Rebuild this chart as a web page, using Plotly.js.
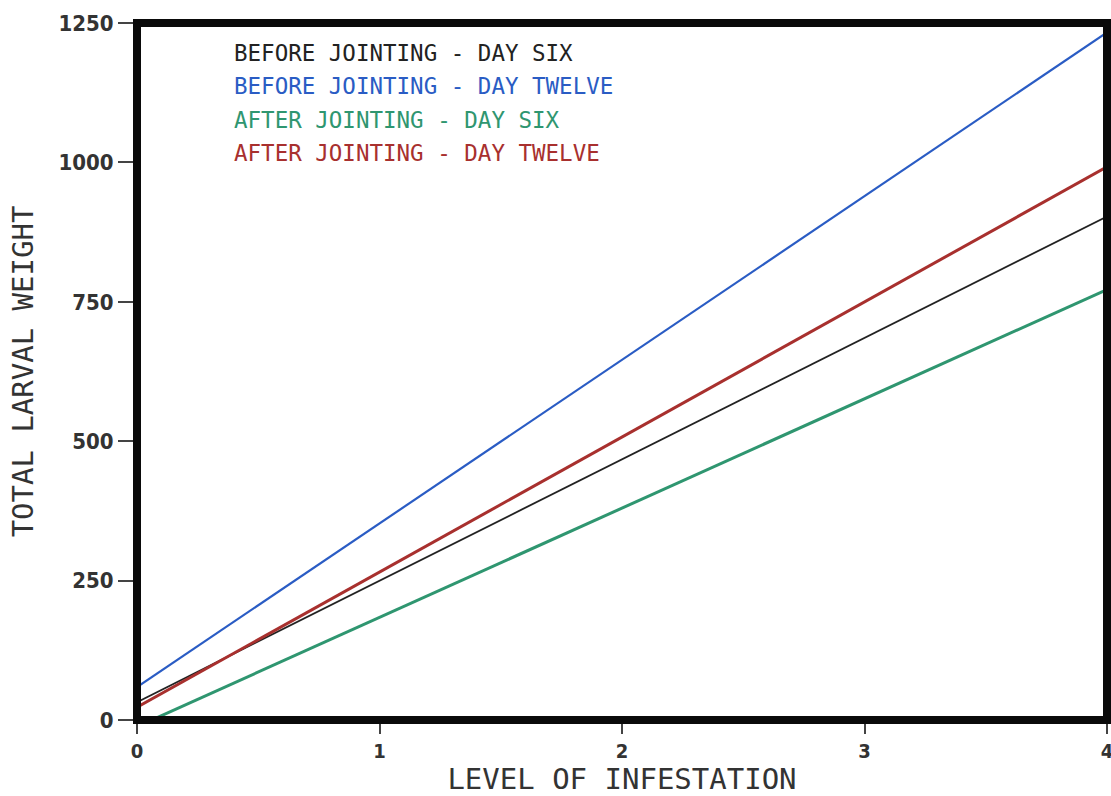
<!DOCTYPE html>
<html>
<head>
<meta charset="utf-8">
<script src="https://cdn.plot.ly/plotly-3.0.1.min.js"></script>
<style>
  html, body { margin: 0; padding: 0; background: #ffffff; }
  #chart { width: 1111px; height: 796px; }
</style>
</head>
<body>
<div id="chart"></div>
<script>
// Data (regression lines, endpoints at level 0 and 4)
const seriesNames = [
  "BEFORE JOINTING - DAY SIX",
  "BEFORE JOINTING - DAY TWELVE",
  "AFTER JOINTING - DAY SIX",
  "AFTER JOINTING - DAY TWELVE"
];
const levels = [0, 4];
const beforeDaySix = [32, 903];
const beforeDayTwelve = [59, 1233];
const afterDaySix = [-12, 772];
const afterDayTwelve = [23, 992];
const xTickVals = [0, 1, 2, 3, 4];
const yTickVals = [0, 250, 500, 750, 1000, 1250];

const colors = ["#222222", "#2a5cc4", "#2f9670", "#a8302e"];
const widths = [1.8, 2.2, 3, 3];
const seriesValues = [beforeDaySix, beforeDayTwelve, afterDaySix, afterDayTwelve];

// draw order: green, black, red, blue
const order = [2, 0, 3, 1];
const traces = order.map(i => ({
  x: levels,
  y: seriesValues[i],
  name: seriesNames[i],
  type: "scatter",
  mode: "lines",
  line: { color: colors[i], width: widths[i] },
  hoverinfo: "x+y+name"
}));

const legendY = [0.957, 0.9095, 0.861, 0.8135];
const annotations = seriesNames.map((t, i) => ({
  text: t,
  xref: "paper", yref: "paper",
  x: 0.098, y: legendY[i],
  xanchor: "left", yanchor: "middle",
  showarrow: false,
  font: { family: "DejaVu Sans Mono, monospace", size: 22.5, color: colors[i] }
}));

const tickFont = { family: "DejaVu Sans Condensed, DejaVu Sans, sans-serif", size: 22, color: "#333333", weight: "bold" };
const xTickFont = { family: "DejaVu Sans Condensed, DejaVu Sans, sans-serif", size: 20, color: "#333333", weight: "bold" };
const titleFont = { family: "DejaVu Sans Mono, monospace", size: 29, color: "#333333" };

const layout = {
  width: 1111,
  height: 796,
  margin: { l: 137, r: 4, t: 23, b: 76 },
  paper_bgcolor: "#ffffff",
  plot_bgcolor: "#ffffff",
  showlegend: false,
  xaxis: {
    range: [0, 4],
    tickvals: xTickVals,
    ticktext: xTickVals.map(String),
    ticks: "outside",
    ticklen: 13,
    tickwidth: 2,
    tickcolor: "#444444",
    showgrid: false,
    zeroline: false,
    showline: false,
    ticklabeloverflow: "allow",
    tickfont: xTickFont,
    title: { text: "LEVEL OF INFESTATION", font: titleFont, standoff: 16 }
  },
  yaxis: {
    range: [0, 1250],
    tickvals: yTickVals,
    ticktext: yTickVals.map(String),
    ticks: "outside",
    ticklen: 18,
    tickwidth: 2,
    tickcolor: "#444444",
    showgrid: false,
    zeroline: false,
    showline: false,
    tickfont: tickFont,
    title: { text: "TOTAL LARVAL WEIGHT", font: titleFont, standoff: 16 }
  },
  shapes: [{
    type: "rect", xref: "paper", yref: "paper",
    x0: 0, x1: 1, y0: 0, y1: 1,
    line: { color: "#0a0a0a", width: 8 },
    layer: "above"
  }],
  annotations: annotations
};

Plotly.newPlot("chart", traces, layout, { displayModeBar: false, staticPlot: true });
</script>
</body>
</html>
